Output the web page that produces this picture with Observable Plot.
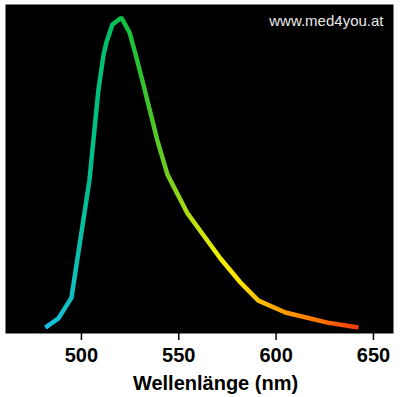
<!DOCTYPE html>
<html>
<head>
<meta charset="utf-8">
<script src="https://cdn.jsdelivr.net/npm/d3@7"></script>
<script src="https://cdn.jsdelivr.net/npm/@observablehq/plot@0.6"></script>
<style>
  html, body { margin: 0; padding: 0; background: #fff; }
  #chart svg { display: block; }
</style>
</head>
<body>
<div id="chart"></div>
<script>
// Emission spectrum (wavelength in nm, relative intensity)
const wavelength = [481.5, 488.2, 494.9, 504.1, 508.7, 511.3, 512.8, 515.9, 520.5, 524.7, 527.7, 531.3, 535.4, 539.0, 544.2, 554.5, 571.4, 581.7, 590.9, 604.8, 626.4, 642.3];
const intensity  = [1.8, 4.6, 10.9, 46.5, 73.9, 84.5, 88.4, 93.9, 96.0, 91.5, 85.1, 76.9, 67.2, 58.7, 48.3, 36.5, 22.8, 15.5, 10.0, 6.4, 3.3, 1.8];
const xTicks = [500, 550, 600, 650];
const xLabel = "Wellenlänge (nm)";
const watermark = ["www.med4you.at"];
// colour of the curve along the wavelength
const gradWavelengths = [481.5, 495, 504, 515, 522, 531, 544, 555, 571, 582, 591, 605, 626, 642.3];
const gradColors = ["#18bfe6", "#10c0c0", "#00c090", "#00c060", "#10c040", "#30c030", "#70cc20", "#b0dc10", "#f0f000", "#ffe000", "#ffc000", "#ff9800", "#ff6a00", "#f03c0a"];

const data = wavelength.map((w, i) => ({w, v: intensity[i]}));

const plot = Plot.plot({
  width: 400,
  height: 397,
  marginLeft: 5,
  marginRight: 7,
  marginTop: 4,
  marginBottom: 64,
  style: {fontFamily: "Arial, 'Liberation Sans', sans-serif", fontSize: "20px", fontWeight: "bold", background: "#fff", color: "#000"},
  x: {domain: [461, 660.3], ticks: xTicks, tickFormat: d => String(d), tickSize: 7, tickPadding: 7, label: xLabel, labelArrow: "none", labelAnchor: "center", labelOffset: 56},
  y: {domain: [0, 100], axis: null},
  marks: [
    Plot.frame({fill: "black", stroke: "none"}),
    Plot.line(data, {x: "w", y: "v", stroke: "url(#specgrad)", strokeWidth: 4.5, strokeLinejoin: "miter", strokeLinecap: "butt"}),
    Plot.text(watermark, {text: d => d, frameAnchor: "top-right", dx: -10, dy: 11, fill: "#e8e8e8", fontSize: 15, fontWeight: "normal"})
  ]
});

// gradient along the x (wavelength) scale
const xs = plot.scale("x");
const x0 = xs.apply(gradWavelengths[0]);
const x1 = xs.apply(gradWavelengths[gradWavelengths.length - 1]);
const svg = d3.select(plot);
const grad = svg.insert("defs", ":first-child")
  .append("linearGradient")
  .attr("id", "specgrad")
  .attr("gradientUnits", "userSpaceOnUse")
  .attr("x1", x0).attr("x2", x1).attr("y1", 0).attr("y2", 0);
gradWavelengths.forEach((w, i) => {
  grad.append("stop")
    .attr("offset", (xs.apply(w) - x0) / (x1 - x0))
    .attr("stop-color", gradColors[i]);
});
const lab = svg.select("g[aria-label='x-axis label']");
lab.attr("transform", `translate(16,0) ${lab.attr("transform") || ""}`);
svg.selectAll("g[aria-label='x-axis tick'] path, g[aria-label='x-axis tick'] line").style("stroke-width", "1.5px");

document.getElementById("chart").appendChild(plot);
</script>
</body>
</html>
